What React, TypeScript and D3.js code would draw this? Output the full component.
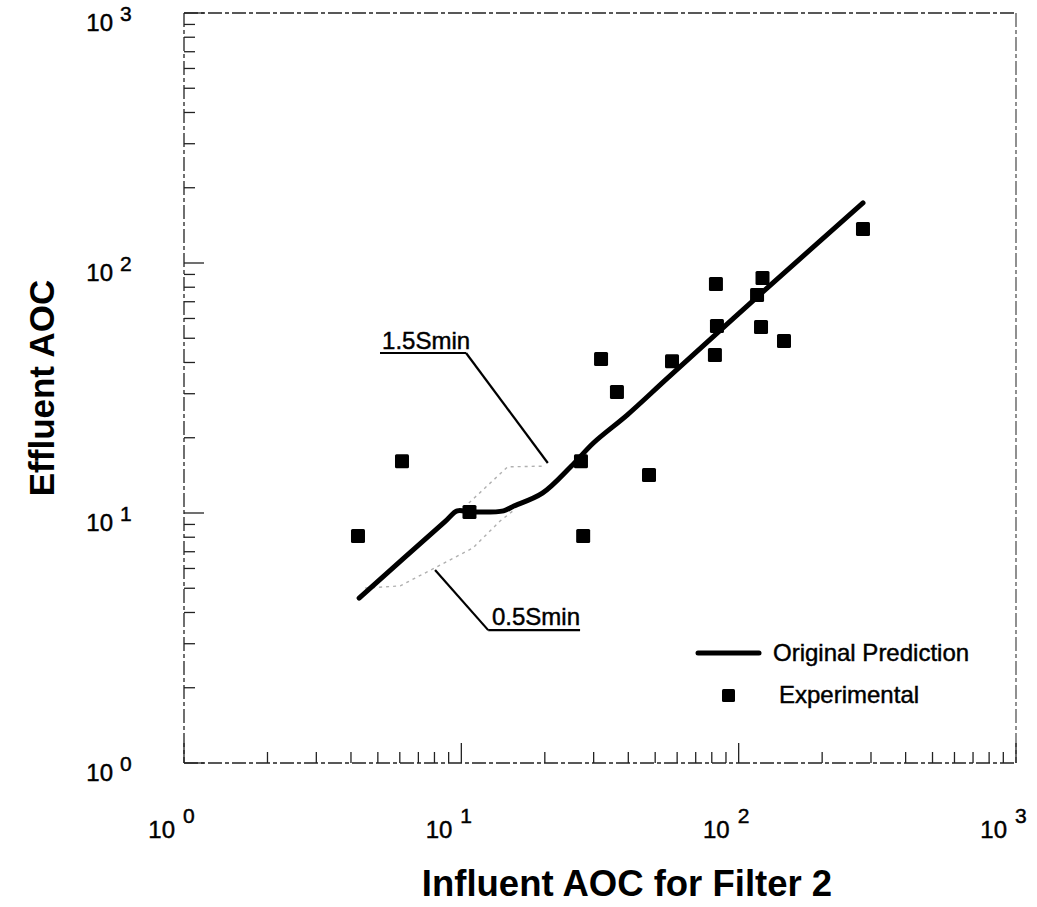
import React from "react";
import * as d3 from "d3";

// Experimental filter 2 measurements (influent vs effluent AOC)
const expInfluent = [4.24, 6.11, 10.7, 27.0, 27.5, 31.9, 36.4, 47.5, 57.5, 82.8, 83.5, 82.1, 116.5, 121.9, 120.4, 145.7, 280.7];
const expEffluent = [8.09, 16.1, 10.1, 16.1, 8.1, 41.3, 30.5, 14.2, 40.5, 82.4, 56.0, 42.9, 74.5, 87.1, 55.5, 48.8, 136.8];

// Original model prediction
const predInfluent = [4.28, 8.73, 9.67, 10.8, 14.2, 15.3, 19.6, 24.8, 30.0, 39.7, 55.5, 116.5, 280.7];
const predEffluent = [4.57, 9.24, 10.2, 10.1, 10.2, 10.6, 12.0, 15.3, 19.1, 24.7, 34.7, 73.1, 173.8];

// Sensitivity bands for substrate minimum
const upperInfluent = [10.2, 14.7, 20.1];
const upperEffluent = [10.5, 15.3, 15.4];
const lowerInfluent = [4.5, 6.02, 11.0, 13.8, 15.7];
const lowerEffluent = [5.01, 5.11, 7.24, 9.29, 10.4];

const decades = [1, 10, 100, 1000];
const decadeExp = ["0", "1", "2", "3"];

const W = 1037;
const H = 907;
const left = 184;
const right = 1016;
const top = 13;
const bottom = 763;

const font = "'Liberation Sans', Arial, Helvetica, sans-serif";

export default function App() {
  const x = d3.scaleLog().domain([1, 1000]).range([left, right]);
  const y = d3.scaleLog().domain([1, 1000]).range([bottom, top]);

  const minorTicks: number[] = [];
  for (const d of [1, 10, 100]) for (let k = 2; k <= 9; k++) minorTicks.push(d * k);

  const smooth = d3
    .line<[number, number]>()
    .x((d) => x(d[0]))
    .y((d) => y(d[1]))
    .curve(d3.curveCatmullRom.alpha(0.5));

  const straight = d3
    .line<[number, number]>()
    .x((d) => x(d[0]))
    .y((d) => y(d[1]));

  const pred = smooth(predInfluent.map((v, i) => [v, predEffluent[i]]) as [number, number][]) || "";
  const upper = straight(upperInfluent.map((v, i) => [v, upperEffluent[i]]) as [number, number][]) || "";
  const lower = straight(lowerInfluent.map((v, i) => [v, lowerEffluent[i]]) as [number, number][]) || "";

  const sq = 14;
  const frameDash = "14,3,4,3";
  const heavy = { stroke: "#000", strokeWidth: 0.45 };

  return (
    <svg
      width={W}
      height={H}
      style={{ position: "absolute", left: 0, top: 0, background: "#fff" }}
      fontFamily={font}
    >
      <rect x={0} y={0} width={W} height={H} fill="#fff" />

      {/* frame */}
      <g stroke="#222" strokeWidth={1.3} fill="none" strokeDasharray={frameDash}>
        <line x1={left} y1={top} x2={right} y2={top} />
        <line x1={left} y1={top} x2={left} y2={bottom} />
        <line x1={left} y1={bottom} x2={right} y2={bottom} />
        <line x1={right} y1={top} x2={right} y2={bottom} stroke="#555" />
      </g>

      {/* ticks (inward) */}
      <g stroke="#222" strokeWidth={1.3}>
        {decades.map((d) => (
          <g key={"maj" + d}>
            <line x1={left} y1={y(d)} x2={left + 20} y2={y(d)} />
            <line x1={x(d)} y1={bottom} x2={x(d)} y2={bottom - 20} />
          </g>
        ))}
        {minorTicks.map((d) => (
          <g key={"min" + d}>
            <line x1={left} y1={y(d)} x2={left + 11} y2={y(d)} />
            <line x1={x(d)} y1={bottom} x2={x(d)} y2={bottom - 11} />
          </g>
        ))}
      </g>

      {/* y tick labels */}
      <g fill="#000" fontSize={24} {...heavy}>
        {decades.map((d, i) => (
          <g key={"yl" + d}>
            <text x={113} y={y(d) + 18} textAnchor="end">10</text>
            <text x={120} y={y(d) + 8} fontSize={21}>{decadeExp[i]}</text>
          </g>
        ))}
      </g>

      {/* x tick labels */}
      <g fill="#000" fontSize={24} {...heavy}>
        {decades.map((d, i) => (
          <g key={"xl" + d}>
            <text x={x(d) - 9} y={838} textAnchor="end">10</text>
            <text x={x(d) - 1} y={823} fontSize={21}>{decadeExp[i]}</text>
          </g>
        ))}
      </g>

      {/* axis titles */}
      <text
        x={627}
        y={896}
        textAnchor="middle"
        fontSize={36.5}
        fontWeight="bold"
        fill="#000"
      >
        Influent AOC for Filter 2
      </text>
      <text
        transform={`translate(54, ${(top + bottom) / 2}) rotate(-90)`}
        textAnchor="middle"
        fontSize={35}
        fontWeight="bold"
        fill="#000"
      >
        Effluent AOC
      </text>

      {/* Smin bands */}
      <path d={upper} fill="none" stroke="#b0b0b0" strokeWidth={1.4} strokeDasharray="3,4" />
      <path d={lower} fill="none" stroke="#b0b0b0" strokeWidth={1.4} strokeDasharray="3,4" />

      {/* prediction */}
      <path
        d={pred}
        fill="none"
        stroke="#000"
        strokeWidth={5}
        strokeLinejoin="round"
        strokeLinecap="round"
      />

      {/* experimental points */}
      <g fill="#000">
        {expInfluent.map((v, i) => (
          <rect
            key={"p" + i}
            x={x(v) - sq / 2}
            y={y(expEffluent[i]) - sq / 2}
            width={sq}
            height={sq}
            rx={1.5}
          />
        ))}
      </g>

      {/* annotations */}
      <g stroke="#000" strokeWidth={2.2} fill="none">
        <line x1={x(5.09)} y1={y(43.65)} x2={x(10.4)} y2={y(43.65)} />
        <line x1={x(10.4)} y1={y(43.65)} x2={x(20.5)} y2={y(15.85)} />
        <line x1={x(8.04)} y1={y(5.92)} x2={x(12.5)} y2={y(3.4)} />
        <line x1={x(12.5)} y1={y(3.4)} x2={x(26.8)} y2={y(3.4)} />
      </g>
      <g fill="#000" fontSize={24} {...heavy}>
        <text x={x(5.18)} y={y(45.3)}>1.5Smin</text>
        <text x={x(12.9)} y={y(3.56)}>0.5Smin</text>
      </g>

      {/* legend */}
      <g>
        <line x1={698} y1={653} x2={759} y2={653} stroke="#000" strokeWidth={5} strokeLinecap="round" />
        <text x={773} y={661} fontSize={24} fill="#000" {...heavy}>Original Prediction</text>
        <rect x={722} y={689} width={13} height={13} fill="#000" rx={1.5} />
        <text x={779} y={703} fontSize={24} fill="#000" {...heavy}>Experimental</text>
      </g>
    </svg>
  );
}
